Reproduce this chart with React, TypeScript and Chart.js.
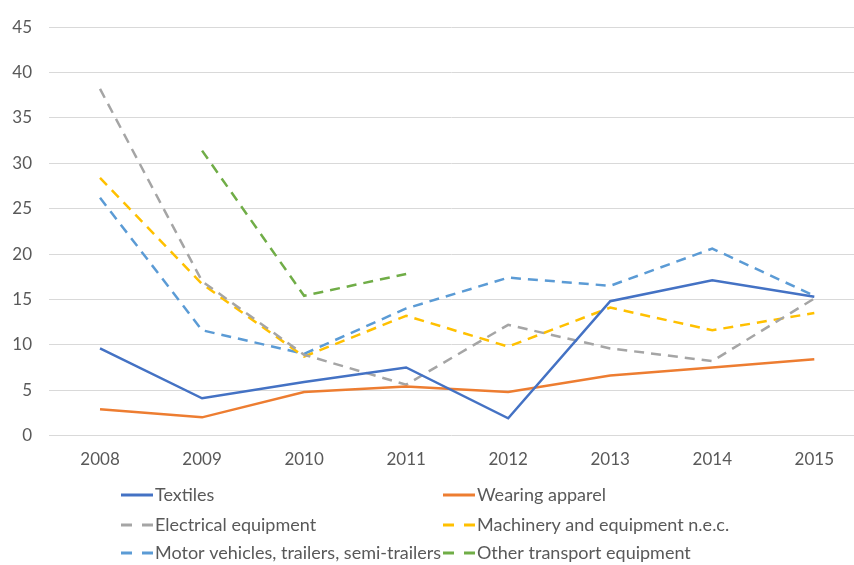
import React, { useEffect, useRef } from 'react';
import { Chart, registerables } from 'chart.js';

Chart.register(...registerables);

const years = [2008, 2009, 2010, 2011, 2012, 2013, 2014, 2015];
const textiles = [9.6, 4.1, 5.9, 7.5, 1.9, 14.8, 17.1, 15.3];
const wearingApparel = [2.9, 2.0, 4.8, 5.4, 4.8, 6.6, 7.5, 8.4];
const electricalEquipment = [38.2, 17.0, 8.9, 5.6, 12.2, 9.6, 8.2, 15.1];
const machinery = [28.4, 16.7, 8.7, 13.2, 9.8, 14.1, 11.6, 13.5];
const motorVehicles = [26.2, 11.6, 9.0, 14.0, 17.4, 16.5, 20.6, 15.4];
const otherTransport = [null, 31.4, 15.4, 17.8, null, null, null, null];
const yTickValues = [0, 5, 10, 15, 20, 25, 30, 35, 40, 45];

const seriesLabels = [
  'Textiles',
  'Wearing apparel',
  'Electrical equipment',
  'Machinery and equipment n.e.c.',
  'Motor vehicles, trailers, semi-trailers',
  'Other transport equipment',
];
const seriesColors = ['#4472C4', '#ED7D31', '#A5A5A5', '#FFC000', '#5B9BD5', '#70AD47'];
const seriesDashed = [false, false, true, true, true, true];
const seriesValues = [textiles, wearingApparel, electricalEquipment, machinery, motorVehicles, otherTransport];

const FONT = 'Lato, "Open Sans", sans-serif';
const TICK_FONT_SIZE = 17;
const LEGEND_FONT_SIZE = 18;
const TEXT_COLOR = '#595959';
const DASH = [10, 7];

const gridLegendPlugin = {
  id: 'gridLegend',
  afterDraw(chart: any) {
    const ctx = chart.ctx;
    const colX = [121, 443];
    const rowY = [495, 525, 553];
    const lineLen = 32;
    ctx.save();
    ctx.font = `${LEGEND_FONT_SIZE}px ${FONT}`;
    ctx.textBaseline = 'middle';
    ctx.textAlign = 'left';
    chart.data.datasets.forEach((ds: any, i: number) => {
      const x = colX[i % 2];
      const y = rowY[Math.floor(i / 2)];
      ctx.beginPath();
      ctx.strokeStyle = ds.borderColor;
      ctx.lineWidth = 3;
      ctx.lineCap = 'butt';
      ctx.setLineDash(ds.borderDash && ds.borderDash.length ? [11, 10] : []);
      ctx.moveTo(x, y);
      ctx.lineTo(x + lineLen, y);
      ctx.stroke();
      ctx.setLineDash([]);
      ctx.fillStyle = TEXT_COLOR;
      ctx.fillText(ds.label, x + lineLen + 2, y);
    });
    ctx.restore();
  },
};

export default function App() {
  const canvasRef = useRef<HTMLCanvasElement | null>(null);

  useEffect(() => {
    const canvas = canvasRef.current;
    if (!canvas) return;
    const datasets = seriesLabels.map((label, i) => ({
      label,
      data: years.map((yr, j) => ({ x: yr, y: seriesValues[i][j] })),
      borderColor: seriesColors[i],
      backgroundColor: seriesColors[i],
      borderWidth: 2.5,
      borderDash: seriesDashed[i] ? DASH : [],
      borderCapStyle: 'butt' as const,
      pointRadius: 0,
      pointHoverRadius: 0,
      tension: 0,
      fill: false,
      spanGaps: false,
    }));

    const chart = new Chart(canvas, {
      type: 'line',
      data: { datasets },
      plugins: [gridLegendPlugin],
      options: {
        animation: false,
        responsive: false,
        devicePixelRatio: 1,
        layout: { padding: { top: 20.5, left: 0, right: 0, bottom: 89.5 } },
        plugins: {
          legend: { display: false },
          tooltip: { enabled: false },
        },
        scales: {
          x: {
            type: 'linear',
            min: 2007.5,
            max: 2015.389,
            afterFit: (scale: any) => {
              scale.height = 40;
            },
            afterBuildTicks: (scale: any) => {
              scale.ticks = years.map((v) => ({ value: v }));
            },
            grid: { display: false, drawTicks: false },
            border: { display: false },
            ticks: {
              padding: 14,
              color: TEXT_COLOR,
              font: { family: FONT, size: TICK_FONT_SIZE },
              callback: (v: any) => String(v),
              maxRotation: 0,
              autoSkip: false,
            },
          },
          y: {
            min: 0,
            max: 45,
            afterFit: (scale: any) => {
              scale.width = 49;
            },
            afterBuildTicks: (scale: any) => {
              scale.ticks = yTickValues.map((v) => ({ value: v }));
            },
            grid: { color: '#d9d9d9', lineWidth: 1, drawTicks: false },
            border: { display: false },
            ticks: {
              padding: 17,
              color: TEXT_COLOR,
              font: { family: FONT, size: TICK_FONT_SIZE },
              callback: (v: any) => String(v),
            },
          },
        },
      },
    });
    return () => chart.destroy();
  }, []);

  return (
    <div style={{ position: 'fixed', left: 0, top: 0, width: 854, height: 565, background: '#fff' }}>
      <canvas ref={canvasRef} width={854} height={565} style={{ display: 'block', width: 854, height: 565 }} />
    </div>
  );
}
